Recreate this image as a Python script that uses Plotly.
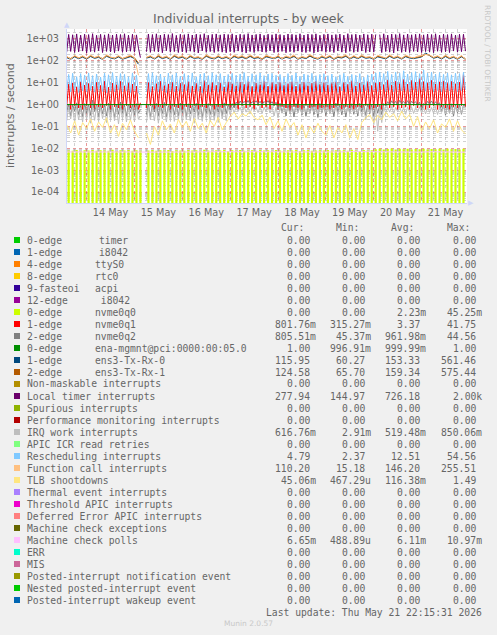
import pandas as pd
import plotly.graph_objects as go

# ---------------- data ----------------
START = "2026-05-13 14:00"
X_RANGE = ["2026-05-13 14:10", "2026-05-21 22:46"]

# hourly samples (rows = 13 May 14h.., 14 May .. 20 May, 21 May ..22h)
LOCAL_TIMER = [
    250, 1620, 270, 1560, 240, 1700, 260, 1500, 280, 1650,
    230, 1590, 265, 1740, 250, 1480, 290, 1630, 240, 1550, 270, 1710, 255, 1520, 235, 1660, 280, 1600, 245, 1730, 260, 1490, 275, 1640,
    250, 1540, 380, 140, None, None, 260, 1690, 245, 1600, 270, 1720, 255, 1510, 235, 1660, 290, 1580, 250, 1760, 265, 1470, 240, 1640,
    255, 1580, 240, 1710, 275, 1520, 250, 1660, 230, 1590, 285, 1740, 245, 1490, 265, 1630, 240, 1700, 270, 1550, 250, 1670, 235, 1600,
    260, 1720, 245, 1510, 280, 1650, 250, 1590, 230, 1750, 265, 1530, 240, 1620, 275, 1700, 255, 1480, 245, 1660, 285, 1570, 240, 1710,
    250, 1600, 270, 1500, 235, 1690, 260, 1640, 245, 1550, 280, 1730, 250, 1520, 240, 1670, 265, 1610, 230, 1720, 255, 1490, 275, 1630,
    245, 1700, 260, 1540, 240, 1600, 285, 1680, 250, 1500, 235, 1740, 270, 1590, 245, 1650, 260, 1520, 280, 1700, 240, 1570, 255, 1660,
    250, 1620, None, 1590, 240, 1720, 265, 1510, 250, 1670, 230, 1600, 280, 1750, 245, 1540, 260, 1690, 240, 1560, 270, 1640, 255, 1710,
    240, 1550, 265, 1680, 250, 1600, 235, 1730, 275, 1520, 245, 1660, 260, 1590, 240, 1710, 280, 1500, 250, 1650, 265, 1640, 278,
]

RESCHEDULING = [
    4.1, 24, 3.8, 27, 4.5, 19, 3.6, 26, 4.2, 22,
    3.9, 28, 4.4, 21, 3.7, 25, 4.8, 18, 4.0, 27, 3.5, 23, 4.3, 29, 3.8, 20, 4.6, 26, 3.9, 24, 4.1, 19, 3.6, 28,
    4.2, 22, 3.5, 3.0, None, None, 4.0, 26, 3.7, 29, 4.5, 21, 3.9, 25, 4.2, 18, 3.6, 27, 4.4, 23, 3.8, 28, 4.1, 20,
    3.9, 26, 4.3, 22, 3.6, 28, 4.7, 19, 4.0, 25, 3.5, 27, 4.2, 21, 3.8, 29, 4.5, 23, 3.7, 26, 4.1, 20, 3.9, 24,
    4.4, 27, 3.8, 22, 4.1, 25, 3.6, 29, 4.6, 20, 3.9, 26, 4.2, 23, 3.7, 28, 4.3, 21, 4.0, 25, 3.6, 27, 4.5, 22,
    3.8, 24, 4.2, 19, 3.7, 26, 4.4, 22, 3.9, 28, 4.1, 20, 3.6, 25, 4.5, 23, 3.8, 27, 4.0, 21, 4.3, 24, 3.7, 26,
    4.1, 21, 3.8, 25, 4.4, 19, 3.6, 23, 4.2, 27, 3.9, 20, 4.5, 24, 3.7, 22, 4.0, 26, 3.8, 18, 4.3, 23, 3.9, 25,
    4.6, 28, 4.0, 31, 4.8, 26, 4.1, 33, 4.5, 24, 3.9, 30, 4.7, 27, 4.2, 35, 4.4, 25, 4.0, 29, 4.6, 32, 4.3, 26,
    4.5, 38, 4.1, 27, 4.7, 30, 4.0, 25, 4.4, 29, 3.9, 24, 4.6, 28, 4.2, 23, 4.5, 27, 4.0, 26, 4.3, 30, 4.79,
]

NVME0Q1 = [
    0.8, 8.5, 0.6, 9.8, 0.9, 6.5, 0.7, 11.0, 0.6, 7.8,
    0.9, 9.2, 0.7, 6.8, 0.6, 10.5, 0.8, 7.5, 0.7, 12.0, 0.9, 6.2, 0.6, 9.5, 0.8, 8.0, 0.7, 11.5, 0.6, 7.2, 0.9, 9.8, 0.7, 8.6,
    0.8, 7.0, 0.6, 1.2, None, None, 0.7, 10.2, 0.9, 6.6, 0.6, 9.0, 0.8, 11.8, 0.7, 7.4, 0.9, 8.8, 0.6, 10.5, 0.8, 6.9, 0.7, 9.6,
    0.6, 8.2, 0.8, 11.2, 0.7, 7.1, 0.9, 9.4, 0.6, 6.7, 0.8, 12.5, 0.7, 8.0, 0.9, 10.1, 0.6, 7.6, 0.8, 9.9, 0.7, 6.4, 0.9, 11.0,
    0.7, 9.0, 0.8, 7.3, 0.6, 10.8, 0.9, 8.4, 0.7, 11.6, 0.8, 6.8, 0.6, 9.7, 0.9, 8.1, 0.7, 12.2, 0.8, 7.0, 0.6, 10.0, 0.9, 8.7,
    0.6, 10.4, 0.8, 7.7, 0.7, 9.1, 0.5, 11.3, 0.8, 6.9, 0.7, 8.8, 0.6, 10.7, 0.9, 7.4, 0.7, 9.6, 0.8, 12.0, 0.6, 8.3, 0.7, 10.2,
    0.8, 7.9, 0.6, 9.3, 0.7, 11.1, 0.9, 6.6, 0.6, 10.0, 0.8, 8.5, 0.7, 12.4, 0.6, 7.2, 0.8, 9.8, 0.7, 8.1, 0.9, 11.4, 0.6, 7.5,
    0.7, 9.5, 0.8, 10.6, 0.6, 8.2, 0.9, 13.5, 0.7, 7.8, 0.8, 11.9, 0.6, 9.0, 0.7, 14.0, 0.8, 8.6, 0.6, 12.8, 0.9, 10.3, 0.7, 15.5,
    0.8, 11.2, 0.6, 9.4, 0.7, 13.0, 0.9, 8.7, 0.6, 10.9, 0.8, 12.1, 0.7, 9.2, 0.6, 11.7, 0.8, 8.9, 0.7, 10.4, 0.9, 24.0, 0.80,
]

NVME0Q2 = [
    0.45, 1.05, 0.30, 0.95, 0.50, 1.20, 0.35, 0.90, 0.28, 1.10,
    0.40, 0.98, 0.32, 1.60, 0.48, 0.92, 0.27, 1.08, 0.38, 0.96, 0.30, 1.15, 0.44, 0.90, 0.26, 1.02, 0.36, 1.30, 0.42, 0.94, 0.29, 1.06, 0.47, 0.99,
    0.33, 1.10, 0.40, 0.60, None, None, 0.35, 1.04, 0.28, 0.93, 0.46, 1.12, 0.31, 0.97, 0.39, 1.25, 0.27, 0.91, 0.43, 1.07, 0.34, 0.95, 0.30, 1.18,
    0.41, 0.96, 0.28, 1.09, 0.37, 0.93, 0.45, 1.14, 0.32, 1.00, 0.26, 0.92, 0.40, 1.11, 0.35, 0.97, 0.29, 1.05, 0.44, 0.94, 0.31, 1.20, 0.38, 1.02,
    0.55, 1.10, 0.70, 1.30, 0.95, 1.45, 1.05, 1.40, 1.10, 1.55, 1.00, 1.35, 1.15, 1.50, 1.05, 1.42, 0.98, 1.38, 1.12, 1.52, 1.02, 1.36, 0.90, 1.28,
    0.60, 1.15, 0.42, 0.98, 0.30, 1.06, 0.38, 0.93, 0.27, 1.10, 0.44, 0.95, 0.33, 1.03, 0.29, 0.91, 0.40, 1.08, 0.35, 0.97, 0.26, 1.12, 0.43, 0.94,
    0.31, 1.01, 0.39, 0.92, 0.28, 1.16, 0.45, 0.96, 0.34, 1.04, 0.27, 0.93, 0.41, 1.09, 0.36, 0.95, 0.30, 1.13, 0.46, 0.98, 0.32, 1.07, 0.38, 0.99,
    0.29, 1.05, 0.40, 0.97, 0.35, 1.10, 0.85, 1.35, 1.00, 1.48, 1.08, 1.40, 0.95, 1.55, 1.12, 1.38, 1.02, 1.50, 0.98, 1.42, 1.10, 1.36, 0.92, 1.30,
    0.55, 1.12, 0.90, 1.40, 1.05, 1.46, 0.98, 1.35, 1.02, 1.20, 0.45, 1.05, 0.33, 0.96, 0.40, 1.08, 0.30, 0.94, 0.42, 1.02, 0.36, 0.97, 0.81,
]

IRQ_WORK = [
    0.18, 0.78, 0.22, 0.74, 0.15, 0.80, 0.20, 0.72, 0.16, 0.76,
    0.21, 0.79, 0.14, 0.73, 0.19, 0.82, 0.17, 0.75, 0.23, 0.77, 0.15, 0.71, 0.20, 0.80, 0.18, 0.74, 0.13, 0.78, 0.22, 0.76, 0.16, 0.81, 0.19, 0.72,
    0.17, 0.77, 0.21, 0.30, None, None, 0.15, 0.79, 0.20, 0.73, 0.18, 0.80, 0.14, 0.75, 0.22, 0.78, 0.16, 0.72, 0.19, 0.81, 0.17, 0.74, 0.21, 0.76,
    0.15, 0.79, 0.20, 0.73, 0.18, 0.77, 0.14, 0.82, 0.21, 0.75, 0.17, 0.78, 0.23, 0.72, 0.16, 0.80, 0.19, 0.74, 0.15, 0.79, 0.22, 0.76, 0.18, 0.73,
    0.35, 0.78, 0.42, 0.80, 0.48, 0.75, 0.40, 0.82, 0.45, 0.77, 0.38, 0.79, 0.50, 0.74, 0.43, 0.81, 0.39, 0.76, 0.46, 0.80, 0.41, 0.78, 0.30, 0.75,
    0.25, 0.72, 0.40, 0.78, 0.45, 0.70, 0.38, 0.76, 0.50, 0.73, 0.42, 0.79, 0.36, 0.71, 0.47, 0.77, 0.40, 0.74, 0.44, 0.80, 0.37, 0.72, 0.48, 0.75,
    0.43, 0.78, 0.39, 0.73, 0.46, 0.80, 0.35, 0.75, 0.49, 0.71, 0.41, 0.77, 0.38, 0.79, 0.45, 0.74, 0.40, 0.76, 0.30, 0.72, 0.20, 0.78, 0.42, 0.75,
    0.12, 0.70, 0.06, 0.74, 0.15, 0.79, 0.40, 0.76, 0.45, 0.81, 0.38, 0.75, 0.47, 0.78, 0.42, 0.73, 0.36, 0.80, 0.44, 0.77, 0.39, 0.74, 0.46, 0.79,
    0.41, 0.76, 0.37, 0.80, 0.44, 0.73, 0.40, 0.78, 0.35, 0.75, 0.45, 0.79, 0.38, 0.72, 0.43, 0.77, 0.39, 0.81, 0.46, 0.74, 0.40, 0.85, 0.62,
]

NVME0Q0 = [
    0, 0.0080, 0, 0.0078, 0, 0.0083, 0, 0.0076, 0, 0.0081,
    0, 0.0079, 0, 0.0084, 0, 0.0077, 0, 0.0082, 0, 0.0080, 0, 0.0078, 0, 0.0085, 0, 0.0076, 0, 0.0081, 0, 0.0079, 0, 0.0083, 0, 0.0077,
    0, 0.0082, 0, 0.0078, 0, 0, 0, 0.0080, 0, 0.0084, 0, 0.0077, 0, 0.0081, 0, 0.0079, 0, 0.0083, 0, 0.0076, 0, 0.0082, 0, 0.0080,
    0, 0.0078, 0, 0.0083, 0, 0.0079, 0, 0.0081, 0, 0.0077, 0, 0.0085, 0, 0.0080, 0, 0.0078, 0, 0.0082, 0, 0.0079, 0, 0.0084, 0, 0.0076,
    0, 0.0081, 0, 0.0079, 0, 0.0083, 0, 0.0077, 0, 0.0080, 0, 0.0082, 0, 0.0078, 0, 0.0084, 0, 0.0079, 0, 0.0081, 0, 0.0077, 0, 0.0083,
    0, 0.0080, 0, 0.0078, 0, 0.0082, 0, 0.0079, 0, 0.0084, 0, 0.0076, 0, 0.0081, 0, 0.0083, 0, 0.0078, 0, 0.0080, 0, 0.0082, 0, 0.0079,
    0, 0.0083, 0, 0.0077, 0, 0.0081, 0, 0.0079, 0, 0.0082, 0, 0.0078, 0, 0.0085, 0, 0.0080, 0, 0.0076, 0, 0.0083, 0, 0.0079, 0, 0.0081,
    0, 0.0090, 0, 0.0095, 0, 0.0088, 0, 0.0092, 0, 0.0097, 0, 0.0089, 0, 0.0094, 0, 0.0091, 0, 0.0096, 0, 0.0088, 0, 0.0093, 0, 0.0090,
    0, 0.0095, 0, 0.0089, 0, 0.0093, 0, 0.0091, 0, 0.0096, 0, 0.0088, 0, 0.0094, 0, 0.0090, 0, 0.0092, 0, 0.0089, 0, 0.0095, 0,
]

# two-hourly samples
TX_RX_0 = [
    140, 118, 152, 126, 147,
    121, 158, 130, 145, 116, 162, 135, 124, 150, 119, 141, 155,
    128, 70, None, 133, 149, 122, 157, 127, 144, 118, 160, 131,
    146, 120, 155, 129, 138, 117, 161, 134, 123, 151, 126, 143,
    119, 156, 132, 147, 124, 159, 128, 140, 115, 153, 136, 125,
    150, 121, 145, 131, 158, 118, 142, 127, 163, 133, 120, 148,
    129, 154, 117, 144, 135, 161, 122, 149, 126, 157, 131, 139,
    118, 152, 137, 124, 160, 129, 146, 120, 155, 134, 127, 143,
    150, 230, 175, 131, 148, 122, 157, 126, 145, 119, 152, 116,
]
TX_RX_1 = [
    150, 128, 163, 136, 158,
    131, 168, 140, 155, 126, 172, 145, 134, 160, 129, 151, 165,
    138, 80, None, 143, 159, 132, 167, 137, 154, 128, 170, 141,
    156, 130, 165, 139, 148, 127, 171, 144, 133, 161, 136, 153,
    129, 166, 142, 157, 134, 169, 138, 150, 125, 163, 146, 135,
    160, 131, 155, 141, 168, 128, 152, 137, 173, 143, 130, 158,
    139, 164, 127, 154, 145, 171, 132, 159, 136, 167, 141, 149,
    128, 162, 147, 134, 170, 139, 156, 130, 165, 144, 137, 153,
    158, 200, 180, 141, 158, 132, 167, 136, 155, 129, 162, 125,
]
FUNCTION_CALL = [
    165, 120, 180, 135, 172,
    128, 185, 142, 170, 118, 192, 150, 131, 178, 125, 160, 188,
    138, 22, None, 145, 175, 127, 190, 140, 168, 121, 195, 147,
    172, 126, 186, 139, 158, 119, 194, 152, 130, 180, 136, 166,
    123, 189, 146, 176, 132, 193, 141, 162, 115, 184, 155, 129,
    178, 124, 169, 143, 191, 120, 164, 137, 197, 148, 126, 174,
    140, 183, 119, 167, 151, 195, 128, 177, 134, 188, 144, 159,
    121, 181, 157, 133, 194, 142, 170, 125, 186, 150, 135, 165,
    175, 195, 185, 144, 173, 130, 185, 138, 166, 124, 179, 110,
]
TLB = [
    0.12, 0.05, 0.18, 0.04, 0.15,
    0.08, 0.22, 0.06, 0.16, 0.09, 0.25, 0.05, 0.12, 0.035, 0.14, 0.07, 0.20,
    0.06, 0.03, None, 0.05, 0.015, 0.10, 0.04, 0.18, 0.07, 0.13, 0.05, 0.21,
    0.09, 0.17, 0.06, 0.23, 0.08, 0.14, 0.05, 0.19, 0.10, 0.26, 0.07, 0.15,
    0.28, 0.45, 0.22, 0.38, 0.30, 0.50, 0.25, 0.20, 0.33, 0.12, 0.27, 0.08,
    0.18, 0.06, 0.22, 0.09, 0.15, 0.04, 0.12, 0.03, 0.10, 0.05, 0.14, 0.06,
    0.04, 0.11, 0.03, 0.09, 0.05, 0.12, 0.03, 0.08, 0.025, 0.15, 0.25, 0.35,
    0.15, 0.32, 0.20, 0.45, 0.26, 0.38, 0.18, 0.50, 0.22, 0.35, 0.10, 0.28,
    0.06, 0.16, 0.08, 0.20, 0.05, 0.13, 0.09, 0.22, 0.06, 0.18, 0.07, 0.045,
]

# eight-hourly samples
ENA_MGMNT = [1.0, 1.0, 1.0, 0.999, 1.0, 1.0, 1.0, 1.0, 1.0, 0.999, 1.0, 1.0, 1.0,
             1.0, 1.0, 1.0, 0.999, 1.0, 1.0, 1.0, 1.0, 1.0, 1.0, 0.999, 1.0, 1.0]
MC_POLLS = [0.0068, 0.0069, 0.0068, 0.0070, 0.0068, 0.0067, 0.0069, 0.0068, 0.0068,
            0.0069, 0.0070, 0.0068, 0.0067, 0.0069, 0.0068, 0.0067, 0.0069, 0.0068,
            0.0070, 0.0068, 0.0069, 0.0068, 0.0067, 0.0069, 0.0068, 0.00665]

Y_TICKS = [1e-4, 1e-3, 1e-2, 1e-1, 1e0, 1e1, 1e2, 1e3]
Y_TICK_TEXT = ["1e-04", "1e-03", "1e-02", "1e-01", "1e+00", "1e+01", "1e+02", "1e+03"]

# legend table
LEG_NAME = ["0-edge", "1-edge", "4-edge", "8-edge", "9-fasteoi", "12-edge", "0-edge", "1-edge",
            "2-edge", "0-edge", "1-edge", "2-edge", "Non-maskable interrupts",
            "Local timer interrupts", "Spurious interrupts", "Performance monitoring interrupts",
            "IRQ work interrupts", "APIC ICR read retries", "Rescheduling interrupts",
            "Function call interrupts", "TLB shootdowns", "Thermal event interrupts",
            "Threshold APIC interrupts", "Deferred Error APIC interrupts",
            "Machine check exceptions", "Machine check polls", "ERR", "MIS",
            "Posted-interrupt notification event", "Nested posted-interrupt event",
            "Posted-interrupt wakeup event"]
LEG_DEV = ["timer", "i8042", "ttyS0", "rtc0", "acpi", "\u00a0i8042", "nvme0q0", "nvme0q1",
           "nvme0q2", "ena-mgmnt@pci:0000:00:05.0", "ens3-Tx-Rx-0", "ens3-Tx-Rx-1"]
LEG_COLOR = ["#00CC00", "#0066B3", "#FF8000", "#FFCC00", "#330099", "#990099", "#CCFF00",
             "#FF0000", "#808080", "#008F00", "#00487D", "#B35A00", "#B38F00", "#6B006B",
             "#8FB300", "#B30000", "#BEBEBE", "#80FF80", "#80C9FF", "#FFC080", "#FFE680",
             "#AA80FF", "#EE00CC", "#FF8080", "#666600", "#FFBFFF", "#00FFCC", "#CC6699",
             "#999900", "#00CC00", "#0066B3"]
LEG_CUR = ["0.00", "0.00", "0.00", "0.00", "0.00", "0.00", "0.00", "801.76m", "805.51m", "1.00",
           "115.95", "124.58", "0.00", "277.94", "0.00", "0.00", "616.76m", "0.00", "4.79",
           "110.20", "45.06m", "0.00", "0.00", "0.00", "0.00", "6.65m", "0.00", "0.00", "0.00",
           "0.00", "0.00"]
LEG_MIN = ["0.00", "0.00", "0.00", "0.00", "0.00", "0.00", "0.00", "315.27m", "45.37m", "996.91m",
           "60.27", "65.70", "0.00", "144.97", "0.00", "0.00", "2.91m", "0.00", "2.37", "15.18",
           "467.29u", "0.00", "0.00", "0.00", "0.00", "488.89u", "0.00", "0.00", "0.00", "0.00",
           "0.00"]
LEG_AVG = ["0.00", "0.00", "0.00", "0.00", "0.00", "0.00", "2.23m", "3.37", "961.98m", "999.99m",
           "153.33", "159.34", "0.00", "726.18", "0.00", "0.00", "519.48m", "0.00", "12.51",
           "146.20", "116.38m", "0.00", "0.00", "0.00", "0.00", "6.11m", "0.00", "0.00", "0.00",
           "0.00", "0.00"]
LEG_MAX = ["0.00", "0.00", "0.00", "0.00", "0.00", "0.00", "45.25m", "41.75", "44.56", "1.00",
           "561.46", "575.44", "0.00", "2.00k", "0.00", "0.00", "850.06m", "0.00", "54.56",
           "255.51", "1.49", "0.00", "0.00", "0.00", "0.00", "10.97m", "0.00", "0.00", "0.00",
           "0.00", "0.00"]
LEG_HEAD = ["Cur:", "Min:", "Avg:", "Max:"]

# ---------------- figure ----------------
W, H = 497, 635
PL, PR, PT, PB = 67, 467, 29, 203          # plot area in pixels
NB = "\u00a0"


def px(xp):
    return (xp - PL) / (PR - PL)


def py(yp):
    return (PB - yp) / (PB - PT)


def times(vals, freq):
    return pd.date_range(START, periods=len(vals), freq=freq)


fig = go.Figure()

fig.add_trace(go.Bar(x=times(NVME0Q0, "h"), y=NVME0Q0, width=1.1 * 3600 * 1000,
                     marker=dict(color="#CCFF00", line=dict(width=0))))


def line(vals, freq, color):
    fig.add_trace(go.Scatter(x=times(vals, freq), y=vals, mode="lines",
                             line=dict(color=color, width=1), hoverinfo="skip"))


line(NVME0Q1, "h", "#FF0000")
line(NVME0Q2, "h", "#808080")
line(ENA_MGMNT, "8h", "#008F00")
line(TX_RX_0, "2h", "#00487D")
line(TX_RX_1, "2h", "#B35A00")
line(LOCAL_TIMER, "h", "#6B006B")
line(IRQ_WORK, "h", "#BEBEBE")
line(RESCHEDULING, "h", "#80C9FF")
line(FUNCTION_CALL, "2h", "#FFC080")
line(TLB, "2h", "#FFE680")
line(MC_POLLS, "8h", "#FFBFFF")

MGRID = "rgba(215,70,70,0.55)"
GRID = "rgba(140,140,140,0.40)"
AXIS = "#CFD6F8"
FONT = "#666666"

fig.update_layout(
    width=W, height=H,
    margin=dict(l=PL, r=W - PR, t=PT, b=H - PB, autoexpand=False),
    paper_bgcolor="#F0F0F0", plot_bgcolor="#FFFFFF",
    showlegend=False,
    font=dict(family="DejaVu Sans", color=FONT, size=10),
)

fig.update_xaxes(
    type="date", range=X_RANGE, tick0="2026-05-14", dtick=86400000,
    tickformat="%d %b", ticklabelmode="period",
    showgrid=True, gridcolor=MGRID, griddash="dot", gridwidth=1,
    ticks="", showline=True, linecolor=AXIS, linewidth=1, zeroline=False,
    tickfont=dict(family="DejaVu Sans", size=9.7, color=FONT),
    minor=dict(dtick=21600000, tick0="2026-05-14", showgrid=True, gridcolor=GRID,
               griddash="dot", gridwidth=1, ticks=""),
    fixedrange=True,
)

MINOR_Y = [m * 10.0 ** e for e in range(-5, 4) for m in range(2, 10)]
fig.update_yaxes(
    type="log", range=[-4.503, 3.457], tickmode="array",
    tickvals=Y_TICKS, ticktext=Y_TICK_TEXT,
    showgrid=True, gridcolor=MGRID, griddash="dot", gridwidth=1,
    ticks="", showline=True, linecolor=AXIS, linewidth=1, zeroline=False,
    tickfont=dict(family="DejaVu Sans", size=9.7, color=FONT),
    ticklabelstandoff=5,
    minor=dict(tickmode="array", tickvals=MINOR_Y, showgrid=True, gridcolor=GRID,
               griddash="dot", gridwidth=1, ticks=""),
    fixedrange=True,
)


def note(text, x, y, size=9.7, color=FONT, family="DejaVu Sans Mono",
         xanchor="left", yanchor="middle", angle=0):
    fig.add_annotation(text=text, x=px(x), y=py(y), xref="paper", yref="paper",
                       showarrow=False, xanchor=xanchor, yanchor=yanchor,
                       borderpad=0, textangle=angle,
                       font=dict(family=family, size=size, color=color))


# titles / watermark
note("Individual interrupts - by week", 248.5, 19, size=12.5, family="DejaVu Sans",
     xanchor="center")
note("interrupts / second", 11, 115, size=11.1, family="DejaVu Sans",
     xanchor="center", angle=-90)
note("RRDTOOL / TOBI OETIKER", 488, 53, size=7.5, family="DejaVu Sans",
     color="#C8C8C8", xanchor="center", angle=90)
note("\u25B2", 67, 25, size=7, family="DejaVu Sans", color=AXIS, xanchor="center")
note("\u25B6", 471, 203, size=7, family="DejaVu Sans", color=AXIS, xanchor="center")

# legend table
COL_END = [316.5, 372.0, 427.0, 483.0]
ROW0, ROWH = 240, 12
for j, head in enumerate(LEG_HEAD):
    note(head + NB + NB, COL_END[j], 227, xanchor="right")

for i, name in enumerate(LEG_NAME):
    cy = ROW0 + ROWH * i
    fig.add_shape(type="rect", xref="paper", yref="paper",
                  x0=px(14), x1=px(20), y0=py(cy + 3), y1=py(cy - 3),
                  fillcolor=LEG_COLOR[i], line=dict(width=0))
    note(name, 25.6, cy)
    if i < len(LEG_DEV):
        note(LEG_DEV[i], 98.2 if i < 2 else 93.7, cy)
    for j, col in enumerate([LEG_CUR, LEG_MIN, LEG_AVG, LEG_MAX]):
        v = col[i]
        txt = v if v[-1].isalpha() else v + NB
        note(txt, COL_END[j], cy, xanchor="right")

note("Last update: Thu May 21 22:15:31 2026", 483, 612, xanchor="right")
note("Munin 2.0.57", 248.5, 623, size=7.5, family="DejaVu Sans", color="#C8C8C8",
     xanchor="center")

# the page's default 8px body margin would shift the whole picture
fig.write_html("out.html",
               config={"displayModeBar": False, "staticPlot": True},
               post_script="document.body.style.margin='0';"
                           "document.body.style.overflow='hidden';")
